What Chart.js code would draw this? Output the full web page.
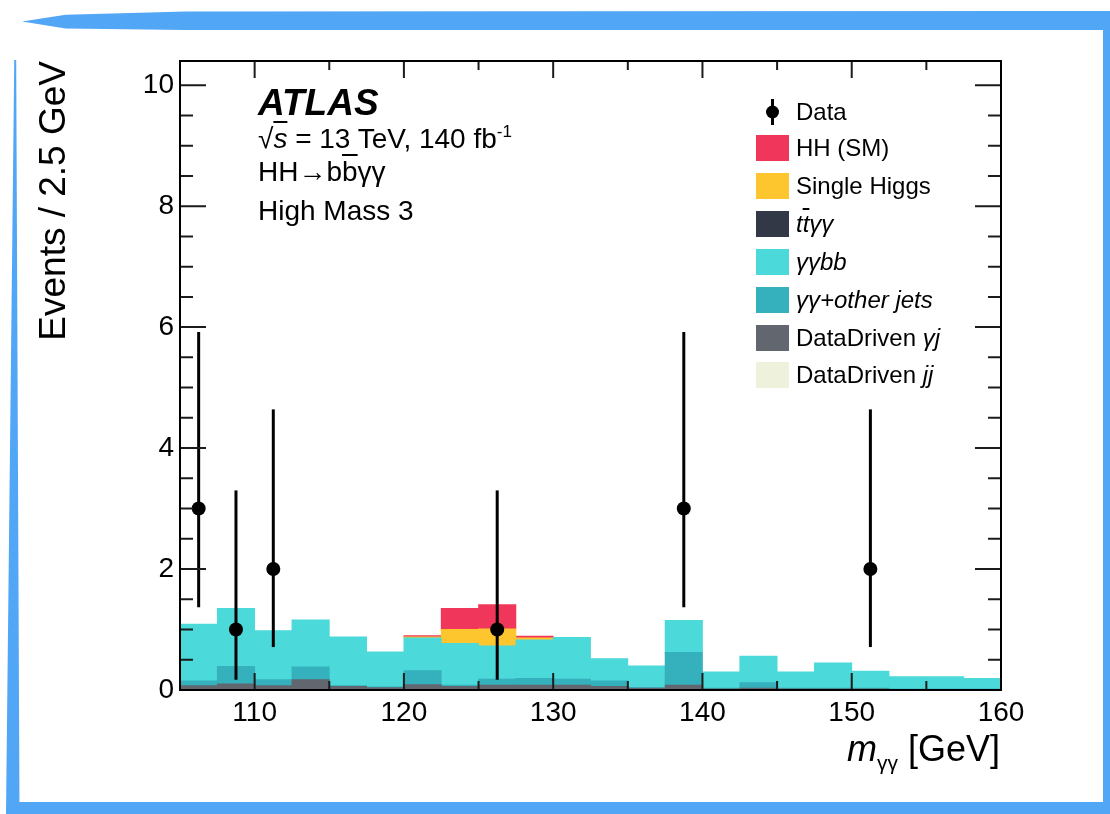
<!DOCTYPE html>
<html><head><meta charset="utf-8">
<script src="https://cdn.jsdelivr.net/npm/chart.js@4.4.0/dist/chart.umd.min.js"></script>
<style>
html,body{margin:0;padding:0;background:#fff;}
#wrap{position:relative;width:1110px;height:814px;overflow:hidden;background:#fff;font-family:"Liberation Sans",Arial,Helvetica,sans-serif;color:#000;}
#c{position:absolute;left:0;top:0;width:1110px;height:814px;}
.deco{position:absolute;background:#52a6f6;}
.txt{position:absolute;white-space:nowrap;line-height:1;}
.lg{position:absolute;left:756px;height:26px;display:flex;align-items:center;white-space:nowrap;font-size:24px;line-height:1;}
.sw{width:33px;height:26px;margin-right:7px;flex:none;}
.ov{text-decoration:overline;}
</style></head>
<body><div id="wrap">
<canvas id="c" width="1110" height="814"></canvas>
<div class="deco" style="left:22px;top:11px;width:1088px;height:19px;clip-path:polygon(0 55%,4% 20%,15% 2%,100% 0,100% 100%,15% 100%,4% 92%);"></div>
<div class="deco" style="left:1103px;top:25px;width:7px;height:789px;"></div>
<div class="deco" style="left:10px;top:802px;width:1100px;height:12px;"></div>
<div class="deco" style="left:6px;top:60px;width:15px;height:754px;clip-path:polygon(55% 0,68% 0,90% 100%,0 100%);"></div>

<div class="txt" style="left:258px;top:84px;font-size:37px;font-weight:bold;font-style:italic;">ATLAS</div>
<div class="txt" style="left:258px;top:123px;font-size:28px;">√<span class="ov" style="font-style:italic">s</span> = 13 TeV, 140 fb<sup style="font-size:17px;vertical-align:11px;">-1</sup></div>
<div class="txt" style="left:258px;top:158px;font-size:28px;">HH→b<span class="ov">b</span>γγ</div>
<div class="txt" style="left:258px;top:197px;font-size:28px;">High Mass 3</div>
<div class="txt" id="xtitle" style="right:110px;top:731px;font-size:36px;"><i>m</i><span style="font-size:21px;vertical-align:-9px;">γγ</span> [GeV]</div>
<div id="legend"></div>
</div>
<script>
// ---- data ----
const binCenters = [106.25,108.75,111.25,113.75,116.25,118.75,121.25,123.75,126.25,128.75,131.25,133.75,136.25,138.75,141.25,143.75,146.25,148.75,151.25,153.75,156.25,158.75];
const xTickLabels = [110,120,130,140,150,160];
const yTickLabels = [0,2,4,6,8,10];
const ddJJ    = [0,0,0,0,0,0,0,0,0,0,0,0,0,0,0,0,0,0,0,0,0,0];
const ddGJ    = [0.07,0.10,0.07,0.17,0.06,0.04,0.09,0.06,0.08,0.08,0.08,0.06,0.03,0.08,0.02,0.03,0.02,0.02,0.02,0.01,0.01,0.01];
const yyOther = [0.08,0.29,0.10,0.21,0.01,0.01,0.23,0.02,0.10,0.11,0.10,0.09,0.01,0.54,0.01,0.09,0.01,0.01,0.01,0.01,0.01,0.01];
const yybb    = [0.94,0.96,0.81,0.78,0.81,0.58,0.54,0.69,0.55,0.64,0.69,0.37,0.36,0.53,0.27,0.44,0.27,0.42,0.28,0.20,0.20,0.17];
const ttyy    = [0,0,0,0,0,0,0,0,0,0,0,0,0,0,0,0,0,0,0,0,0,0];
const singleH = [0,0,0,0,0,0,0.02,0.23,0.28,0.03,0,0,0,0,0,0,0,0,0,0,0,0];
const hhSM    = [0,0,0,0,0,0,0.02,0.35,0.40,0.03,0,0,0,0,0,0,0,0,0,0,0,0];
const dataX    = [106.25,108.75,111.25,126.25,138.75,151.25];
const dataY    = [3,1,2,1,3,2];
const dataLow  = [1.37,0.17,0.71,0.17,1.37,0.71];
const dataHigh = [5.92,3.30,4.64,3.30,5.92,4.64];

const FONT = '"Liberation Sans", Arial, Helvetica, sans-serif';
const pts = arr => binCenters.map((c,i)=>({x:c,y:arr[i]}));
const barDs = (label, arr, color) => ({
  type:'bar', label, data:pts(arr), backgroundColor:color, borderWidth:0,
  barPercentage:1, categoryPercentage:1, order:1, yAxisID:'y',
  inflateAmount: ctx => (ctx.raw && ctx.raw.y > 0 ? 0.4 : 0)
});
const datasets = [
  barDs('DataDriven jj', ddJJ, '#eef2dc'),
  barDs('DataDriven γj', ddGJ, '#61666f'),
  barDs('γγ+other jets', yyOther, '#35b1bd'),
  barDs('γγbb', yybb, '#4bd9d9'),
  barDs('ttγγ', ttyy, '#333846'),
  barDs('Single Higgs', singleH, '#fdc52e'),
  barDs('HH (SM)', hhSM, '#f0375b'),
  {type:'line', label:'Data', data:dataX.map((x,i)=>({x, y:dataY[i]})), showLine:false,
   pointRadius:7, pointHoverRadius:7, pointBackgroundColor:'#000', pointBorderColor:'#000', pointBorderWidth:0,
   order:0, yAxisID:'yD'}
];

const atlasFrame = {
  id:'atlasFrame',
  afterDatasetsDraw(chart){
    const {ctx, chartArea:a, scales} = chart;
    const xs = scales.x, yd = scales.yD, ys = scales.y;
    ctx.save();
    ctx.strokeStyle = '#000'; ctx.lineWidth = 3;
    dataX.forEach((v,i)=>{
      const px = xs.getPixelForValue(v);
      ctx.beginPath();
      ctx.moveTo(px, yd.getPixelForValue(dataHigh[i]));
      ctx.lineTo(px, yd.getPixelForValue(dataLow[i]));
      ctx.stroke();
    });
    ctx.strokeStyle = '#1c1c1c'; ctx.lineWidth = 2;
    for (let k = 1; k <= 20; k++) {
      const v = k * 0.5, py = ys.getPixelForValue(v);
      const len = (v % 2 === 0) ? 26 : 13;
      ctx.beginPath();
      ctx.moveTo(a.left, py); ctx.lineTo(a.left + len, py);
      ctx.moveTo(a.right, py); ctx.lineTo(a.right - len, py);
      ctx.stroke();
    }
    for (let v = 110; v < 160; v += 5) {
      const px = xs.getPixelForValue(v);
      const len = (v % 10 === 0) ? 17 : 9;
      ctx.beginPath();
      ctx.moveTo(px, a.bottom); ctx.lineTo(px, a.bottom - len);
      ctx.moveTo(px, a.top); ctx.lineTo(px, a.top + len);
      ctx.stroke();
    }
    ctx.strokeStyle = '#000'; ctx.lineWidth = 2;
    ctx.strokeRect(a.left, a.top, a.right - a.left, a.bottom - a.top);
    ctx.restore();
  }
};

const chart = new Chart(document.getElementById('c'), {
  type:'bar',
  data:{datasets},
  options:{
    responsive:false, animation:false, devicePixelRatio:1,
    events:[],
    layout:{padding:{left:20, top:61, right:109, bottom:0}},
    plugins:{legend:{display:false}, tooltip:{enabled:false}},
    scales:{
      x:{type:'linear', min:105, max:160, stacked:true, offset:false,
         grid:{display:false, drawTicks:false}, border:{display:false},
         afterBuildTicks: s => { s.ticks = xTickLabels.map(v=>({value:v})); },
         afterFit: s => { s.height = 124; },
         ticks:{autoSkip:false, maxRotation:0, padding:6, color:'#000', font:{family:FONT, size:28}}},
      y:{type:'linear', min:0, max:10.4, stacked:true,
         grid:{display:false, drawTicks:false}, border:{display:false},
         afterBuildTicks: s => { s.ticks = yTickLabels.map(v=>({value:v})); },
         afterFit: s => { s.width = 160; },
         ticks:{padding:6, color:'#000', font:{family:FONT, size:28}},
         title:{display:true, text:'Events / 2.5 GeV', align:'end', color:'#000',
                font:{family:FONT, size:37}, padding:{top:13, bottom:0}}},
      yD:{type:'linear', min:0, max:10.4, display:false, stacked:false}
    }
  },
  plugins:[atlasFrame]
});

// legend (HTML), colors taken from the chart datasets
const byLabel = l => chart.data.datasets.find(d => d.label === l);
const legendRows = [
  ['Data', 'Data', 112],
  ['HH (SM)', 'HH (SM)', 148],
  ['Single Higgs', 'Single Higgs', 186],
  ['ttγγ', '<i>t</i><i class="ov">t</i><i>γγ</i>', 224],
  ['γγbb', '<i>γγbb</i>', 262],
  ['γγ+other jets', '<i>γγ+other jets</i>', 300],
  ['DataDriven γj', 'DataDriven <i>γj</i>', 338],
  ['DataDriven jj', 'DataDriven <i>jj</i>', 375]
];
const lg = document.getElementById('legend');
legendRows.forEach(([lab, html, cy]) => {
  const row = document.createElement('div');
  row.className = 'lg';
  row.style.top = (cy - 13) + 'px';
  const sw = document.createElement('div');
  sw.className = 'sw';
  if (lab === 'Data') {
    sw.innerHTML = '<svg width="33" height="26"><line x1="16.5" y1="0" x2="16.5" y2="26" stroke="#000" stroke-width="3"/><circle cx="16.5" cy="13" r="6.5" fill="#000"/></svg>';
  } else {
    sw.style.background = byLabel(lab).backgroundColor;
  }
  const t = document.createElement('span');
  t.innerHTML = html;
  row.appendChild(sw); row.appendChild(t);
  lg.appendChild(row);
});
</script>
</body></html>
